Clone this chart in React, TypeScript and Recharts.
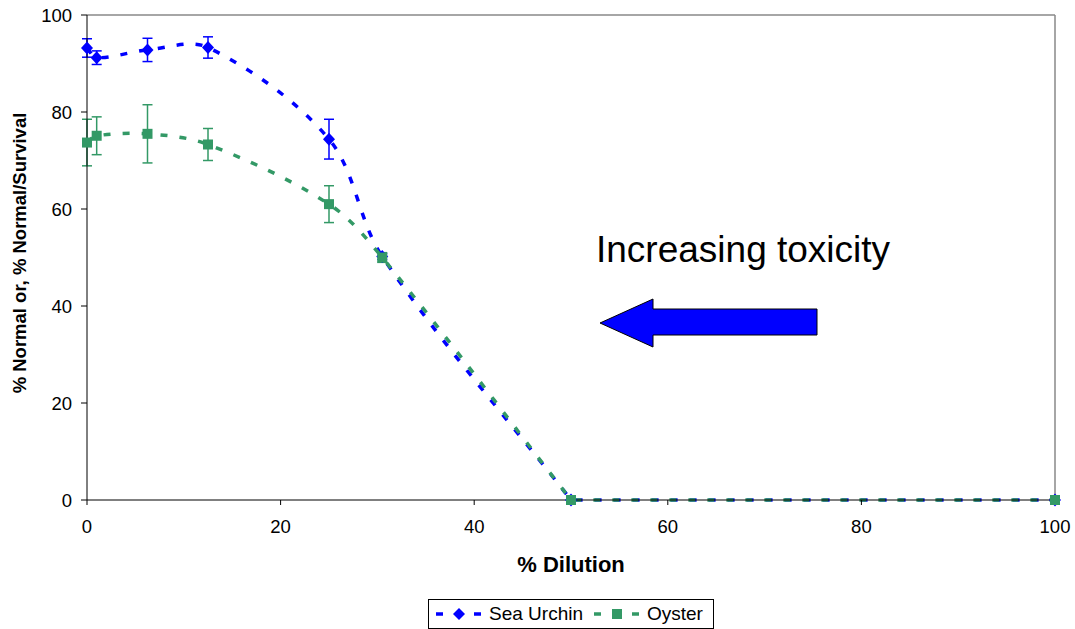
import { LineChart, Line, XAxis, YAxis, ErrorBar, ReferenceLine, Legend } from 'recharts';

// % dilution for each test concentration
const dilution = [0, 1, 6.25, 12.5, 25, 30.5, 50, 100];

// sea urchin normal development (%), with standard deviation
const urchin = [93.2, 91.2, 92.8, 93.3, 74.4, 50.2, 0, 0];
const urchinSd = [1.9, 1.4, 2.4, 2.2, 4.1, 0.6, 0, 0];

// oyster normal/survival (%), with standard deviation
const oyster = [73.7, 75.1, 75.5, 73.3, 61.0, 50.0, 0, 0];
const oysterSd = [4.8, 3.9, 6.0, 3.3, 3.8, 1.0, 0, 0];

const xTicks = [0, 20, 40, 60, 80, 100];
const yTicks = [0, 20, 40, 60, 80, 100];

const data = dilution.map((d, i) => ({
  dilution: d,
  urchin: urchin[i],
  urchinSd: urchinSd[i],
  oyster: oyster[i],
  oysterSd: oysterSd[i],
}));

const BLUE = '#0000ff';
const GREEN = '#339966';
const FONT = '"Liberation Sans", Arial, sans-serif';

// smoothed line: bezier through the points with chord-scaled tangents;
// where a flat run starts or ends the segments keep their own direction
const smoothCurve = (context: any) => {
  let pts: number[][] = [];
  const dist = (a: number[], b: number[]) => Math.hypot(b[0] - a[0], b[1] - a[1]);
  const flat = (a: number[], b: number[]) => Math.abs(b[1] - a[1]) < 0.5;
  return {
    areaStart() {},
    areaEnd() {},
    lineStart() {
      pts = [];
    },
    point(x: number, y: number) {
      pts.push([+x, +y]);
    },
    lineEnd() {
      const n = pts.length;
      if (!n) return;
      context.moveTo(pts[0][0], pts[0][1]);
      for (let i = 0; i < n - 1; i++) {
        const p1 = pts[i];
        const p2 = pts[i + 1];
        const d = dist(p1, p2);
        let c1: number[];
        if (i === 0 || flat(pts[i - 1], p1) !== flat(p1, p2)) {
          c1 = [p1[0] + (p2[0] - p1[0]) / 3, p1[1] + (p2[1] - p1[1]) / 3];
        } else {
          const p0 = pts[i - 1];
          const k = d / (dist(p0, p1) + d) / 3;
          c1 = [p1[0] + (p2[0] - p0[0]) * k, p1[1] + (p2[1] - p0[1]) * k];
        }
        let c2: number[];
        if (i + 2 >= n || flat(p1, p2) !== flat(p2, pts[i + 2])) {
          c2 = [p2[0] - (p2[0] - p1[0]) / 3, p2[1] - (p2[1] - p1[1]) / 3];
        } else {
          const p3 = pts[i + 2];
          const k = d / (d + dist(p2, p3)) / 3;
          c2 = [p2[0] - (p3[0] - p1[0]) * k, p2[1] - (p3[1] - p1[1]) * k];
        }
        context.bezierCurveTo(c1[0], c1[1], c2[0], c2[1], p2[0], p2[1]);
      }
    },
  };
};

const diamondDot = (p: any) => (
  <path
    key={`u-${p.index}`}
    d={`M${p.cx},${p.cy - 6.5}L${p.cx + 6},${p.cy}L${p.cx},${p.cy + 6.5}L${p.cx - 6},${p.cy}Z`}
    fill={BLUE}
  />
);

const squareDot = (p: any) => (
  <rect key={`o-${p.index}`} x={p.cx - 5} y={p.cy - 5} width={10} height={10} fill={GREEN} />
);

const LegendIcon = ({ color, shape }: { color: string; shape: 'diamond' | 'square' }) => (
  <svg width={47} height={14} style={{ display: 'block' }}>
    <line x1={1} y1={7} x2={47} y2={7} stroke={color} strokeWidth={3.5} strokeDasharray="7 12" />
    {shape === 'diamond' ? (
      <path d="M24,1L30,7L24,13L18,7Z" fill={color} />
    ) : (
      <rect x={19} y={2} width={10} height={10} fill={color} />
    )}
  </svg>
);

const renderLegend = () => (
  <div
    style={{
      display: 'flex',
      alignItems: 'center',
      border: '1px solid #000',
      height: 28,
      padding: '0 10px 0 6px',
      fontFamily: FONT,
      fontSize: 19,
      color: '#000',
      background: '#fff',
    }}
  >
    <LegendIcon color={BLUE} shape="diamond" />
    <span style={{ marginLeft: 7, marginRight: 10 }}>Sea Urchin</span>
    <LegendIcon color={GREEN} shape="square" />
    <span style={{ marginLeft: 7 }}>Oyster</span>
  </div>
);

export default function App() {
  return (
    <div style={{ position: 'absolute', left: 0, top: 0, width: 1075, height: 629, background: '#fff' }}>
      <LineChart
        width={1075}
        height={629}
        data={data}
        margin={{ top: 15, right: 20, bottom: 1, left: 0 }}
        style={{ fontFamily: FONT }}
      >
        <XAxis
          dataKey="dilution"
          type="number"
          domain={[0, 100]}
          ticks={xTicks}
          height={98}
          tickSize={5}
          tickMargin={15}
          tick={{ fill: '#000', fontSize: 18.5 }}
          stroke="#000"
          label={{
            content: ({ viewBox }: any) => (
              <text
                x={viewBox.x + viewBox.width / 2}
                y={572}
                textAnchor="middle"
                fontSize={22}
                fontWeight="bold"
                fill="#000"
              >
                % Dilution
              </text>
            ),
          }}
        />
        <YAxis
          type="number"
          domain={[0, 100]}
          ticks={yTicks}
          width={87}
          tickSize={6}
          tickMargin={9}
          tick={{ fill: '#000', fontSize: 18.5 }}
          stroke="#000"
          label={{
            content: () => (
              <text
                x={26}
                y={253}
                transform="rotate(-90 26 253)"
                textAnchor="middle"
                fontSize={18.5}
                fontWeight="bold"
                fill="#000"
              >
                % Normal or, % Normal/Survival
              </text>
            ),
          }}
        />
        <ReferenceLine y={100} stroke="#888" strokeWidth={1.5} />
        <ReferenceLine x={100} stroke="#888" strokeWidth={1.5} />
        <Legend
          verticalAlign="bottom"
          content={renderLegend}
          wrapperStyle={{ left: 428, bottom: 0, width: 'auto' }}
        />
        <Line
          dataKey="urchin"
          name="Sea Urchin"
          type={smoothCurve as any}
          stroke={BLUE}
          strokeWidth={3.5}
          strokeDasharray="7 12"
          dot={diamondDot}
          activeDot={false}
          isAnimationActive={false}
        >
          <ErrorBar dataKey="urchinSd" direction="y" width={5} stroke={BLUE} strokeWidth={1.5} />
        </Line>
        <Line
          dataKey="oyster"
          name="Oyster"
          type={smoothCurve as any}
          stroke={GREEN}
          strokeWidth={3.5}
          strokeDasharray="7 12"
          dot={squareDot}
          activeDot={false}
          isAnimationActive={false}
        >
          <ErrorBar dataKey="oysterSd" direction="y" width={5} stroke={GREEN} strokeWidth={1.5} />
        </Line>
      </LineChart>
      <svg
        width={1075}
        height={629}
        style={{ position: 'absolute', left: 0, top: 0, pointerEvents: 'none', fontFamily: FONT }}
      >
        <text x={596} y={262} fontSize={37} fill="#000">
          Increasing toxicity
        </text>
        <path
          d="M600,323 L653,299 L653,309 L817,309 L817,335 L653,335 L653,347 Z"
          fill={BLUE}
          stroke="#000"
          strokeWidth={1}
        />
      </svg>
    </div>
  );
}
